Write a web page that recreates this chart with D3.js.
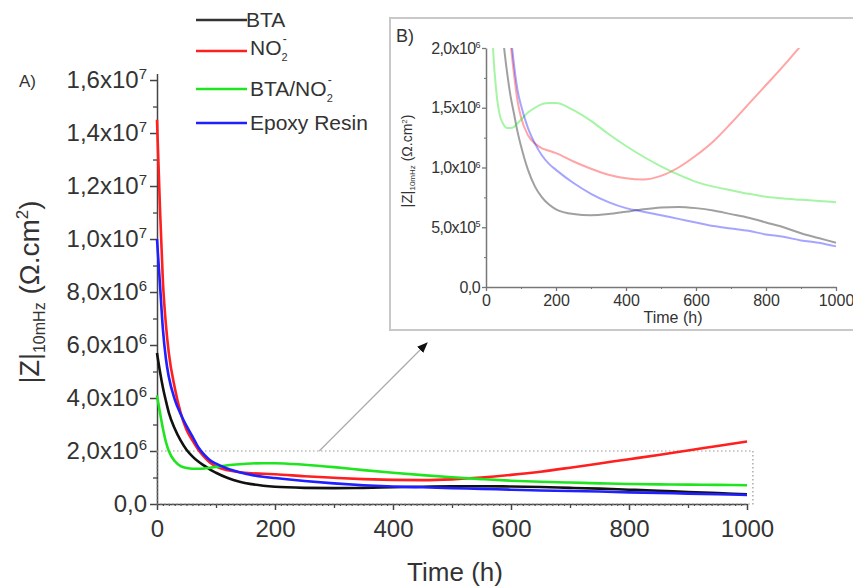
<!DOCTYPE html>
<html>
<head>
<meta charset="utf-8">
<script src="https://cdn.jsdelivr.net/npm/d3@7"></script>
<style>
body { margin: 0; background: #fff; }
svg text { font-family: "Liberation Sans", Arial, sans-serif; fill: #333; }
</style>
</head>
<body>
<div id="chart"></div>
<script>
// time grid (h) and |Z| at 10 mHz, in units of 10^6 ohm.cm2
var hours  = [0,5,10,15,20,30,40,50,60,70,80,90,100,120,140,160,180,200,250,300,350,400,450,500,550,600,650,700,750,800,850,900,950,1000];
var bta    = [5.7,5.0,4.4,3.9,3.45,2.85,2.4,2.05,1.8,1.6,1.45,1.3,1.18,0.98,0.84,0.75,0.69,0.65,0.61,0.60,0.61,0.63,0.65,0.665,0.67,0.66,0.64,0.61,0.58,0.54,0.50,0.45,0.41,0.37];
var no2    = [14.5,11.2,8.4,6.8,5.7,4.4,3.45,2.8,2.4,2.05,1.78,1.56,1.42,1.27,1.2,1.16,1.14,1.12,1.05,0.99,0.94,0.91,0.90,0.93,1.0,1.1,1.22,1.37,1.53,1.69,1.85,2.02,2.19,2.36];
var btaNo2 = [4.1,3.45,2.85,2.35,2.0,1.62,1.43,1.36,1.33,1.33,1.34,1.37,1.40,1.46,1.50,1.53,1.54,1.54,1.48,1.39,1.28,1.18,1.09,1.01,0.94,0.88,0.84,0.81,0.78,0.755,0.74,0.73,0.72,0.71];
var epoxy  = [10.0,8.3,6.6,5.5,4.8,3.95,3.4,2.95,2.55,2.14,1.86,1.65,1.52,1.33,1.2,1.1,1.03,0.98,0.87,0.78,0.71,0.66,0.63,0.60,0.57,0.54,0.51,0.49,0.47,0.44,0.42,0.39,0.37,0.34];

var xTicks = [0,200,400,600,800,1000];
var yTicks = [0,2,4,6,8,10,12,14,16];
var insetYTicks = [0,0.5,1,1.5,2];

var series = [
    {name: "BTA", values: bta, color: "#111"},
    {name: "NO2", values: no2, color: "#ff1f1f"},
    {name: "BTA/NO2", values: btaNo2, color: "#1fe51f"},
    {name: "Epoxy Resin", values: epoxy, color: "#1f1fff"}
];

var W = 853, H = 587;

var svg = d3.select("#chart")
    .append("svg")
    .attr("width", W)
    .attr("height", H);

// scientific label like 1,6x10^7 (v in units of 10^6)
function sci(v) {
    if (v === 0) return ["0,0", null];
    var val = v * 1e6;
    var e = Math.floor(Math.log10(val) + 1e-9);
    var m = val / Math.pow(10, e);
    return [m.toFixed(1).replace(".", ",") + "x10", e];
}

function sciLabels(g, supSize) {
    g.selectAll(".tick text").each(function(d) {
        var t = d3.select(this).text(null), f = sci(d);
        t.append("tspan").text(f[0]);
        if (f[1] !== null) {
            t.append("tspan").attr("dy", "-0.6em").attr("font-size", supSize).text(f[1]);
        }
    });
}

// ---------- main plot ----------
var x = d3.scaleLinear().domain([0, 1000]).range([157, 747]);
var y = d3.scaleLinear().domain([0, 16.25]).range([504, 73.4]);

var line = d3.line()
    .x(function(d) { return x(d[0]); })
    .y(function(d) { return y(d[1]); })
    .curve(d3.curveMonotoneX);

// minor ticks first
svg.append("g")
    .attr("transform", "translate(0," + y(0) + ")")
    .call(d3.axisBottom(x).tickValues(d3.range(0, 1001, 10)).tickSize(2).tickFormat(""))
    .call(function(g) { g.select(".domain").remove(); g.selectAll("line").attr("stroke", "#444"); });
svg.append("g")
    .attr("transform", "translate(0," + y(0) + ")")
    .call(d3.axisBottom(x).tickValues(d3.range(100, 1000, 200)).tickSize(4).tickFormat(""))
    .call(function(g) { g.select(".domain").remove(); g.selectAll("line").attr("stroke", "#444").attr("stroke-width", 1.3); });
svg.append("g")
    .attr("transform", "translate(" + x(0) + ",0)")
    .call(d3.axisLeft(y).tickValues(d3.range(1, 16, 2)).tickSize(4).tickFormat(""))
    .call(function(g) { g.select(".domain").remove(); g.selectAll("line").attr("stroke", "#444").attr("stroke-width", 1.3); });

var gx = svg.append("g")
    .attr("transform", "translate(0," + y(0) + ")")
    .call(d3.axisBottom(x).tickValues(xTicks).tickSize(6).tickSizeOuter(0).tickPadding(10).tickFormat(d3.format("d")));
gx.selectAll("text").attr("font-size", 24).attr("fill", "#333");

var gy = svg.append("g")
    .attr("transform", "translate(" + x(0) + ",0)")
    .call(d3.axisLeft(y).tickValues(yTicks).tickSize(7).tickSizeOuter(0).tickPadding(3));
gy.selectAll("text").attr("font-size", 24).attr("fill", "#333");
sciLabels(gy, 15);

[gx, gy].forEach(function(g) {
    g.select(".domain").attr("stroke", "#444").attr("stroke-width", 1.5);
    g.selectAll(".tick line").attr("stroke", "#444").attr("stroke-width", 1.5);
});

// dotted zoom region
svg.append("rect")
    .attr("x", x(0))
    .attr("y", y(2))
    .attr("width", x(1010) - x(0))
    .attr("height", y(0) - y(2))
    .attr("fill", "none")
    .attr("stroke", "#999")
    .attr("stroke-width", 1.2)
    .attr("stroke-dasharray", "1.5,2.5");

series.forEach(function(s) {
    svg.append("path")
        .datum(hours.map(function(h, i) { return [h, s.values[i]]; }))
        .attr("fill", "none")
        .attr("stroke", s.color)
        .attr("stroke-width", 2.6)
        .attr("d", line);
});

// axis titles
svg.append("text")
    .attr("x", 455)
    .attr("y", 581)
    .attr("text-anchor", "middle")
    .attr("font-size", 26)
    .text("Time (h)");

var yt = svg.append("text")
    .attr("transform", "translate(39,292) rotate(-90)")
    .attr("text-anchor", "middle")
    .attr("font-size", 27);
yt.append("tspan").text("|Z|");
yt.append("tspan").attr("font-size", 16).attr("dy", 6).text("10mHz");
yt.append("tspan").attr("font-size", 28).attr("dy", -6).text(" (\u03A9.cm");
yt.append("tspan").attr("font-size", 17).attr("dy", -11).text("2");
yt.append("tspan").attr("font-size", 28).attr("dy", 11).text(")");

svg.append("text").attr("x", 19).attr("y", 87).attr("font-size", 17).text("A)");

// ---------- legend ----------
var legendY = [20, 51, 89, 123];
series.forEach(function(s, i) {
    svg.append("line")
        .attr("x1", 196).attr("x2", 247)
        .attr("y1", legendY[i]).attr("y2", legendY[i])
        .attr("stroke", i === 0 ? "#333" : s.color)
        .attr("stroke-width", 2.4);
    var t = svg.append("text")
        .attr("x", i === 0 ? 246 : 250)
        .attr("y", legendY[i] + (i === 1 ? 4 : 7))
        .attr("font-size", 21);
    if (s.name.indexOf("NO2") >= 0) {
        t.append("tspan").text(s.name.replace("2", ""));
        t.append("tspan").attr("font-size", 11).attr("dy", 6).text("2");
        t.append("tspan").attr("font-size", 12).attr("dx", -5).attr("dy", -18).text("-");
    } else {
        t.text(s.name);
    }
});

// ---------- inset ----------
var inset = svg.append("g");
inset.append("rect")
    .attr("x", 390).attr("y", 18)
    .attr("width", 480).attr("height", 312)
    .attr("fill", "#fff")
    .attr("stroke", "#c8c8c8")
    .attr("stroke-width", 2);

var ix = d3.scaleLinear().domain([0, 1000]).range([486, 836]);
var iy = d3.scaleLinear().domain([0, 2]).range([287, 48]);

inset.append("clipPath").attr("id", "insetClip")
    .append("rect")
    .attr("x", ix(0)).attr("y", iy(2))
    .attr("width", ix(1000) - ix(0) + 4)
    .attr("height", iy(0) - iy(2));

var iline = d3.line()
    .x(function(d) { return ix(d[0]); })
    .y(function(d) { return iy(d[1]); })
    .curve(d3.curveMonotoneX);

inset.append("g")
    .attr("transform", "translate(0," + iy(0) + ")")
    .call(d3.axisBottom(ix).tickValues(d3.range(100, 1000, 200)).tickSize(2).tickFormat(""))
    .call(function(g) { g.select(".domain").remove(); g.selectAll("line").attr("stroke", "#777"); });
inset.append("g")
    .attr("transform", "translate(" + ix(0) + ",0)")
    .call(d3.axisLeft(iy).tickValues([0.25, 0.75, 1.25, 1.75]).tickSize(2).tickFormat(""))
    .call(function(g) { g.select(".domain").remove(); g.selectAll("line").attr("stroke", "#777"); });

var igx = inset.append("g")
    .attr("transform", "translate(0," + iy(0) + ")")
    .call(d3.axisBottom(ix).tickValues(xTicks).tickSize(4).tickSizeOuter(0).tickPadding(4).tickFormat(d3.format("d")));
igx.selectAll("text").attr("font-size", 16).attr("fill", "#555");

var igy = inset.append("g")
    .attr("transform", "translate(" + ix(0) + ",0)")
    .call(d3.axisLeft(iy).tickValues(insetYTicks).tickSize(4).tickSizeOuter(0).tickPadding(2));
igy.selectAll("text").attr("font-size", 16).attr("fill", "#555").attr("letter-spacing", -0.6);
sciLabels(igy, 9);

[igx, igy].forEach(function(g) {
    g.select(".domain").attr("stroke", "#777").attr("stroke-width", 1.5);
    g.selectAll(".tick line").attr("stroke", "#777").attr("stroke-width", 1.3);
});

series.forEach(function(s) {
    inset.append("path")
        .datum(hours.map(function(h, i) { return [h, s.values[i]]; }))
        .attr("clip-path", "url(#insetClip)")
        .attr("fill", "none")
        .attr("stroke", s.color)
        .attr("stroke-opacity", 0.4)
        .attr("stroke-width", 2)
        .attr("d", iline);
});

inset.append("text")
    .attr("x", 673).attr("y", 323)
    .attr("text-anchor", "middle")
    .attr("font-size", 16)
    .attr("fill", "#555")
    .text("Time (h)");

var iyt = inset.append("text")
    .attr("transform", "translate(412,161) rotate(-90)")
    .attr("text-anchor", "middle")
    .attr("font-size", 15)
    .attr("fill", "#555");
iyt.append("tspan").text("|Z|");
iyt.append("tspan").attr("font-size", 8).attr("dy", 3).text("10mHz");
iyt.append("tspan").attr("font-size", 14).attr("dy", -3).text(" (\u03A9.cm");
iyt.append("tspan").attr("font-size", 8).attr("dy", -5).text("2");
iyt.append("tspan").attr("font-size", 14).attr("dy", 5).text(")");

inset.append("text").attr("x", 396).attr("y", 42).attr("font-size", 18).attr("fill", "#444").text("B)");

// ---------- arrow from zoom box to inset ----------
svg.append("defs").append("marker")
    .attr("id", "head")
    .attr("viewBox", "0 0 10 10")
    .attr("refX", 9).attr("refY", 5)
    .attr("markerWidth", 9).attr("markerHeight", 9)
    .attr("orient", "auto")
    .append("path")
    .attr("d", "M0,1 L10,5 L0,9 Z")
    .attr("fill", "#111");

svg.append("line")
    .attr("x1", x(275)).attr("y1", y(2))
    .attr("x2", 427).attr("y2", 343)
    .attr("stroke", "#aaa")
    .attr("stroke-width", 1.2)
    .attr("marker-end", "url(#head)");
</script>
</body>
</html>
